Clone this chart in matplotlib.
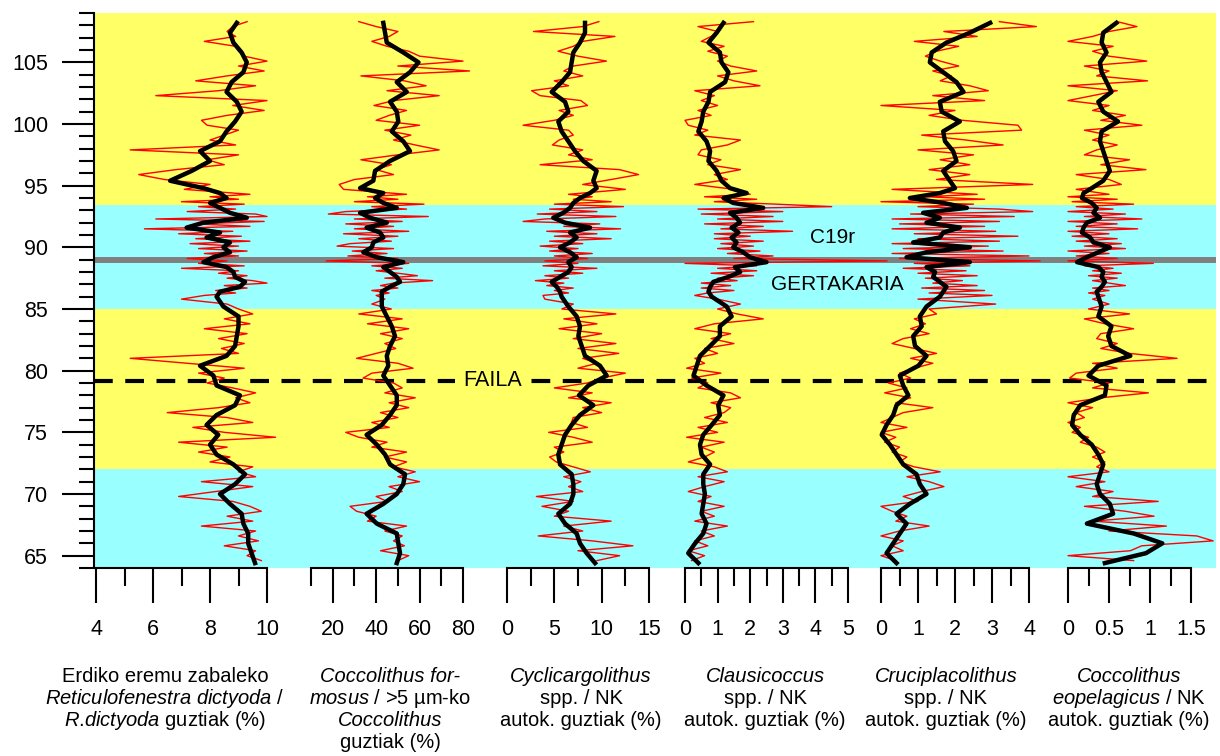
import matplotlib
matplotlib.use("Agg")
import matplotlib.pyplot as plt

plt.rcParams["font.family"] = ["Liberation Sans", "DejaVu Sans"]
plt.rcParams["mathtext.fontset"] = "custom"
plt.rcParams["mathtext.rm"] = "Liberation Sans"
plt.rcParams["mathtext.it"] = "Liberation Sans:italic"

# ---- data (depth in m) ----
depth_red = [
    108.3, 107.9, 107.5, 107.1, 106.7, 106.3, 105.9, 105.5, 105.1, 104.7,
    104.3, 103.9, 103.5, 103.1, 102.7, 102.3, 101.9, 101.5, 101.1, 100.7,
    100.3, 99.9, 99.5, 99.1, 98.7, 98.3, 97.9, 97.5, 97.1, 96.7,
    96.3, 95.9, 95.5, 95.1, 94.7, 94.3,
    94.1, 93.9, 93.7, 93.5, 93.3, 93.1, 92.9, 92.7, 92.5, 92.3,
    92.1, 91.9, 91.7, 91.5, 91.3, 91.1, 90.9, 90.7, 90.5, 90.3,
    90.1, 89.9, 89.7, 89.5, 89.3, 89.1, 88.9, 88.7, 88.5, 88.3,
    88.1, 87.9, 87.7, 87.5, 87.3, 87.1, 86.9, 86.7, 86.5, 86.3,
    86.1,
    85.8, 85.4, 85.0, 84.6, 84.2, 83.8, 83.4, 83.0, 82.6, 82.2,
    81.8, 81.4, 81.0, 80.6, 80.2, 79.8, 79.4, 79.0, 78.6, 78.2,
    77.8, 77.4, 77.0, 76.6, 76.2, 75.8, 75.4, 75.0, 74.6, 74.2,
    73.8, 73.4, 73.0, 72.6, 72.2, 71.8, 71.4, 71.0, 70.6, 70.2,
    69.8, 69.4, 69.0, 68.6, 68.2, 67.8, 67.4, 67.0, 66.6, 66.2,
    65.8, 65.4, 65.0, 64.6,
]

depth_black = [
    108.2, 107.4, 106.6, 105.8, 105.0, 104.2, 103.4, 102.6, 101.8, 101.0,
    100.2, 99.4, 98.6, 97.8, 97.0, 96.2, 95.4,
    94.8, 94.4, 94.0, 93.6, 93.2, 92.8, 92.4, 92.0, 91.6, 91.2,
    90.8, 90.4, 90.0, 89.6, 89.2, 88.8, 88.4, 88.0, 87.6, 87.2,
    86.8, 86.4, 86.0,
    85.2, 84.4, 83.6, 82.8, 82.0, 81.2, 80.4, 79.6, 78.8, 78.0,
    77.2, 76.4, 75.6, 74.8, 74.0, 73.2, 72.4, 71.6, 70.8, 70.0,
    69.2, 68.4, 67.6, 66.8, 66.0, 65.2, 64.4,
]

# Reticulofenestra dictyoda (medium) / all R. dictyoda (%)
rdict_raw = [
    9.3, 8.8, 8.6, 8.9, 7.8, 8.9, 9.0, 9.2, 10.0, 9.0,
    9.9, 8.6, 7.5, 9.6, 8.3, 6.1, 10.0, 8.8, 9.9, 8.6,
    7.7, 7.9, 9.0, 8.5, 8.0, 8.9, 5.2, 9.0, 7.9, 8.5,
    6.8, 5.5, 6.4, 8.0, 7.1, 9.4,
    8.0, 9.0, 7.0, 9.2, 7.6, 8.9, 7.2, 9.6, 10.0, 6.1,
    9.9, 7.5, 9.4, 5.7, 8.8, 6.9, 9.1, 7.5, 9.4, 7.3,
    9.0, 7.6, 9.3, 7.8, 9.0, 7.2, 8.6, 7.6, 9.2, 7.0,
    9.0, 8.3, 9.3, 8.6, 9.5, 10.0, 8.5, 9.3, 8.2, 8.9,
    7.8,
    7.0, 8.6, 9.0, 9.5, 8.5, 9.4, 7.8, 9.3, 8.3, 9.2,
    8.4, 9.0, 5.2, 7.2, 9.2, 7.6, 8.5, 7.9, 8.8, 9.6,
    8.9, 9.4, 8.3, 6.5, 8.6, 9.5, 7.4, 8.5, 10.3, 6.9,
    8.6, 7.6, 8.7, 8.0, 9.5, 9.0, 9.6, 7.7, 9.5, 8.2,
    6.9, 8.8, 9.4, 9.8, 8.6, 9.5, 7.7, 9.6, 9.0, 9.7,
    8.5, 9.6, 9.3, 9.8,
]
rdict_smooth = [
    8.94, 8.70, 8.82, 9.11, 9.29, 9.17, 8.76, 8.58, 8.94, 9.11,
    8.88, 8.58, 8.35, 7.65, 8.00, 7.36, 6.60,
    7.77, 8.35, 8.58, 8.00, 8.35, 8.70, 9.29, 7.77, 7.18, 8.35,
    7.88, 8.70, 8.47, 8.70, 8.12, 7.77, 8.58, 8.82, 8.88, 9.23,
    9.05, 8.35, 8.23,
    8.47, 9.00, 9.00, 8.94, 8.88, 8.58, 7.65, 8.12, 8.23, 9.05,
    8.88, 8.23, 7.88, 8.29, 8.00, 8.23, 8.82, 9.23, 8.88, 8.35,
    8.70, 9.11, 9.17, 9.34, 9.34, 9.46, 9.58,
]

# Coccolithus formosus / Coccolithus > 5 um (%)
cform_raw = [
    32, 40, 50, 46, 38, 45, 55, 60, 80, 50,
    83, 33, 53, 63, 45, 69, 48, 39, 54, 46,
    40, 60, 44, 56, 48, 58, 69, 50, 33, 47,
    40, 48, 30, 23, 25, 54,
    36, 50, 30, 62, 38, 54, 26, 18, 64, 30,
    52, 26, 48, 30, 55, 25, 50, 32, 47, 28,
    22, 48, 29, 45, 27, 50, 17, 55, 38, 52,
    40, 50, 59, 44, 66, 48, 42, 50, 38, 46,
    40,
    44, 38, 47, 32, 52, 36, 55, 42, 52, 44,
    49, 40, 31, 50, 57, 38, 34, 48, 52, 44,
    58, 46, 55, 42, 50, 38, 46, 26, 32, 45,
    38, 54, 44, 54, 48, 58, 50, 60, 46, 52,
    40, 45, 28, 31, 40, 36, 54, 44, 52, 48,
    53, 42, 55, 50,
]
cform_smooth = [
    43.3, 44.1, 44.9, 52.5, 59.5, 55.6, 49.5, 54.1, 46.4, 49.5,
    50.2, 47.2, 52.5, 55.6, 46.4, 39.5, 38.7,
    32.6, 43.3, 39.5, 43.3, 49.5, 32.6, 37.2, 44.9, 35.6, 41.8,
    43.3, 38.7, 38.0, 34.1, 40.3, 52.5, 43.3, 46.4, 49.5, 51.0,
    46.4, 42.6, 42.6,
    42.6, 44.9, 47.2, 48.7, 46.4, 44.9, 45.6, 43.3, 46.4, 49.5,
    49.5, 46.4, 42.6, 35.6, 40.3, 44.1, 46.4, 53.3, 52.5, 49.5,
    43.3, 35.6, 40.3, 49.5, 50.2, 51.0, 49.5,
]

# Cyclicargolithus spp. (%)
cycl_raw = [
    9.7, 8.0, 2.8, 11.4, 8.0, 7.0, 5.4, 7.5, 10.5, 7.0,
    6.0, 8.0, 5.0, 6.5, 2.6, 3.5, 7.8, 8.5, 5.5, 7.0,
    5.0, 1.7, 6.5, 7.0, 5.5, 4.8, 8.0, 6.5, 9.0, 3.5,
    11.9, 13.9, 11.0, 8.0, 12.5, 6.5,
    9.0, 7.0, 11.0, 5.0, 12.3, 4.5, 9.5, 3.2, 11.5, 4.0,
    1.7, 9.8, 6.0, 12.0, 4.2, 9.5, 5.0, 11.0, 4.5, 8.0,
    3.5, 7.5, 4.5, 9.0, 5.0, 8.5, 4.0, 7.5, 3.8, 9.5,
    5.0, 8.0, 4.0, 6.5, 3.0, 6.0, 4.2, 7.0, 5.0, 6.5,
    3.8,
    4.0, 7.0, 5.8, 11.5, 6.0, 9.5, 5.5, 10.0, 7.0, 11.5,
    7.5, 11.8, 8.0, 9.5, 7.5, 12.5, 10.0, 8.5, 5.0, 9.0,
    6.5, 11.0, 8.0, 10.0, 7.0, 6.8, 8.5, 4.4, 7.0, 9.0,
    5.0, 6.0, 4.5, 5.2, 7.0, 8.8, 6.0, 7.8, 6.5, 8.0,
    3.1, 7.0, 3.7, 6.5, 5.0, 11.0, 6.0, 8.0, 3.3, 9.0,
    13.3, 7.5, 11.9, 9.5,
]
cycl_smooth = [
    8.24, 8.24, 7.71, 7.01, 6.83, 6.66, 5.77, 4.72, 6.13, 6.48,
    5.42, 5.77, 6.48, 7.18, 8.06, 9.47, 9.12,
    9.47, 8.77, 7.71, 7.01, 6.66, 5.95, 4.89, 6.13, 8.77, 6.66,
    7.36, 6.66, 5.60, 6.66, 7.36, 6.48, 6.83, 6.48, 5.60, 4.72,
    5.25, 5.60, 5.77,
    6.48, 7.36, 7.71, 7.54, 7.89, 8.24, 9.82, 10.53, 8.60, 7.60,
    9.12, 7.71, 6.83, 6.13, 5.77, 5.42, 5.60, 6.83, 7.01, 7.01,
    6.66, 5.42, 6.13, 7.36, 7.71, 8.42, 9.30,
]

# Clausicoccus spp. (%)
claus_raw = [
    2.1, 0.4, 1.0, 0.8, 0.5, 1.2, 0.7, 1.3, 1.0, 1.4,
    2.2, 1.0, 1.5, 2.3, 0.3, 0.9, 0.5, 1.0, 0.4, 0.8,
    0.0, 0.1, 0.7, 0.3, 1.7, 1.3, 0.5, 0.4, 1.1, 0.7,
    1.7, 0.9, 1.3, 0.3, 1.5, 2.0,
    0.6, 2.2, 0.9, 2.8, 4.5, 0.4, 3.0, 0.5, 2.7, 1.0,
    3.0, 0.6, 2.4, 1.1, 3.3, 0.9, 2.0, 0.9, 2.4, 1.1,
    2.1, 1.0, 2.3, 1.3, 2.7, 1.5, 6.2, 0.0, 2.2, 1.0,
    2.2, 0.8, 2.1, 1.0, 1.6, 0.5, 1.4, 0.5, 1.5, 0.7,
    0.3,
    1.0, 1.7, 1.0, 1.6, 2.4, 0.9, 0.3, 1.4, 0.8, 1.5,
    0.6, 1.0, 0.3, 0.6, 0.05, 1.1, 0.2, 0.7, 0.4, 1.4,
    1.7, 0.8, 1.4, 1.2, 0.6, 1.3, 0.4, 1.0, 0.05, 1.2,
    0.5, 0.9, 0.6, 0.1, 0.9, 1.3, 0.4, 1.2, 0.6, 0.1,
    0.8, 0.4, 1.2, 0.5, 0.9, 0.3, 1.3, 0.5, 0.9, 0.3,
    0.7, 0.1, 0.6, 0.2,
]
claus_smooth = [
    1.18, 0.97, 0.72, 1.07, 1.12, 1.33, 1.23, 0.77, 0.72, 0.56,
    0.51, 0.41, 0.66, 0.77, 0.72, 0.97, 1.12,
    1.38, 1.89, 1.18, 1.48, 2.40, 1.38, 1.58, 1.69, 1.43, 1.64,
    1.43, 1.58, 1.48, 1.79, 1.99, 2.50, 1.53, 1.69, 1.33, 0.87,
    0.77, 0.72, 0.82,
    1.28, 1.43, 1.07, 1.07, 0.77, 0.46, 0.36, 0.26, 0.66, 1.18,
    1.02, 1.07, 0.82, 0.56, 0.46, 0.51, 0.77, 0.56, 0.56, 0.61,
    0.56, 0.51, 0.66, 0.56, 0.31, 0.10, 0.41,
]

# Cruciplacolithus spp. (%)
cruci_raw = [
    3.2, 4.2, 1.7, 2.6, 0.9, 2.1, 1.5, 1.2, 1.6, 2.1,
    1.4, 1.9, 1.6, 2.4, 2.9, 1.4, 2.8, 0.0, 2.0, 1.3,
    2.2, 3.7, 3.8, 1.1, 2.3, 3.3, 1.0, 2.5, 1.6, 2.4,
    1.3, 2.4, 1.5, 4.1, 0.3, 2.6,
    1.2, 2.8, 0.0, 2.5, 1.0, 3.2, 4.1, 0.8, 3.6, 0.3,
    3.2, 0.5, 2.8, 0.3, 3.1, 0.9, 3.7, 1.0, 3.2, 0.3,
    2.9, 0.6, 3.3, 0.3, 4.0, 0.5, 4.3, 0.9, 2.4, 0.6,
    2.3, 1.0, 2.6, 1.2, 2.2, 1.4, 2.6, 1.1, 2.8, 1.3,
    3.0,
    1.0, 3.1, 1.3, 1.5, 0.9, 1.2, 0.8, 1.3, 0.6, 0.3,
    0.9, 1.5, 0.8, 1.4, 0.9, 0.5, 0.8, 0.2, 0.7, 0.1,
    0.8, 0.4, 1.4, 0.6, 0.3, 0.0, 0.7, 0.0, 0.4, 0.1,
    0.5, 0.3, 0.7, 0.5, 0.9, 1.6, 0.7, 1.3, 1.7, 1.1,
    0.6, 1.0, 0.0, 0.3, 0.7, 0.4, 1.3, 0.5, 0.0, 0.6,
    0.3, 0.6, 0.0, 0.4,
]
cruci_smooth = [
    2.95, 2.40, 1.77, 1.37, 1.32, 1.68, 2.04, 2.23, 1.59, 1.64,
    2.13, 1.68, 1.73, 1.95, 2.04, 1.68, 1.86,
    2.00, 1.59, 0.78, 1.68, 2.32, 1.14, 1.59, 1.23, 2.13, 1.68,
    1.59, 0.87, 2.40, 1.23, 0.69, 2.40, 1.23, 1.46, 1.41, 1.59,
    1.77, 1.68, 1.59,
    1.23, 1.05, 1.10, 0.87, 0.92, 1.23, 1.01, 0.51, 0.60, 0.74,
    0.42, 0.33, 0.15, 0.02, 0.24, 0.42, 0.60, 0.96, 1.05, 1.23,
    0.78, 0.42, 0.69, 0.51, 0.33, 0.15, 0.42,
]

# Coccolithus eopelagicus (%)
ceope_raw = [
    0.6, 0.84, 0.5, 0.3, 0.0, 0.55, 0.3, 0.5, 0.96, 0.2,
    0.5, 0.35, 0.97, 0.0, 0.6, 0.3, 0.0, 0.5, 0.3, 0.7,
    0.4, 0.9, 0.2, 0.5, 0.3, 0.6, 0.35, 0.2, 0.75, 0.4,
    0.95, 0.1, 0.5, 0.65, 0.1, 0.5,
    0.0, 0.6, 0.05, 0.8, 0.1, 0.55, 0.0, 0.7, 0.2, 0.9,
    0.0, 0.6, 0.1, 0.85, 0.0, 0.5, 0.05, 0.6, 0.1, 0.65,
    0.2, 0.7, 0.0, 0.5, 0.1, 0.6, 0.0, 1.04, 0.2, 0.55,
    0.3, 0.65, 0.25, 0.6, 0.3, 0.5, 0.7, 0.3, 0.5, 0.25,
    0.45,
    0.3, 0.5, 0.25, 0.75, 0.2, 0.45, 0.8, 0.4, 0.35, 0.6,
    0.4, 0.75, 1.33, 0.3, 0.6, 0.1, 0.02, 0.5, 0.3, 0.98,
    0.4, 0.0, 0.3, 0.1, 0.2, 0.0, 0.15, 0.05, 0.25, 0.15,
    0.35, 0.45, 0.3, 0.45, 0.35, 0.5, 0.0, 0.45, 0.1, 0.55,
    0.3, 1.1, 0.2, 0.7, 1.05, 0.3, 1.2, 0.5, 1.57, 1.77,
    0.9, 0.76, 0.0, 0.8,
]
ceope_smooth = [
    0.59, 0.43, 0.41, 0.47, 0.39, 0.41, 0.47, 0.53, 0.37, 0.43,
    0.61, 0.41, 0.39, 0.43, 0.47, 0.51, 0.43,
    0.29, 0.19, 0.17, 0.29, 0.35, 0.31, 0.39, 0.23, 0.19, 0.17,
    0.27, 0.31, 0.51, 0.37, 0.23, 0.11, 0.37, 0.43, 0.41, 0.45,
    0.41, 0.35, 0.37,
    0.41, 0.37, 0.53, 0.49, 0.53, 0.76, 0.37, 0.25, 0.47, 0.45,
    0.15, 0.07, 0.05, 0.15, 0.29, 0.37, 0.43, 0.39, 0.35, 0.39,
    0.51, 0.55, 0.23, 0.80, 1.15, 0.95, 0.45,
]

# zone boundaries (depth) and event depths
zone_edges = [64, 72.0, 85.0, 93.4, 109]
event_depth = 89.0
fault_depth = 79.2

# axis limits / ticks per panel
panel_xlim = [(4, 10), (10, 80), (0, 15), (0, 5), (0, 4), (0, 1.5)]
panel_major = [[4, 6, 8, 10], [20, 40, 60, 80], [0, 5, 10, 15],
               [0, 1, 2, 3, 4, 5], [0, 1, 2, 3, 4], [0, 0.5, 1, 1.5]]
panel_minor = [[5, 7, 9], [10, 30, 50, 70], [2.5, 7.5, 12.5],
               [0.5, 1.5, 2.5, 3.5, 4.5], [0.5, 1.5, 2.5, 3.5],
               [0.25, 0.75, 1.25]]
panel_labels = [["4", "6", "8", "10"], ["20", "40", "60", "80"],
                ["0", "5", "10", "15"], ["0", "1", "2", "3", "4", "5"],
                ["0", "1", "2", "3", "4"], ["0", "0.5", "1", "1.5"]]
panel_titles = [
    ["Erdiko eremu zabaleko", r"$\mathit{Reticulofenestra\ dictyoda}$ /",
     r"$\mathit{R}$.$\mathit{dictyoda}$ guztiak (%)"],
    ["Coccolithus for-", r"$\mathit{mosus}$ / >5 µm-ko", "Coccolithus",
     "guztiak (%)"],
    ["Cyclicargolithus", "spp. / NK", "autok. guztiak (%)"],
    ["Clausicoccus", "spp. / NK", "autok. guztiak (%)"],
    ["Cruciplacolithus", "spp. / NK", "autok. guztiak (%)"],
    ["Coccolithus", r"$\mathit{eopelagicus}$ / NK", "autok. guztiak (%)"],
]
italic_lines = {"Coccolithus for-", "Coccolithus", "Cyclicargolithus",
                "Clausicoccus", "Cruciplacolithus"}

raw_series = [rdict_raw, cform_raw, cycl_raw, claus_raw, cruci_raw, ceope_raw]
smooth_series = [rdict_smooth, cform_smooth, cycl_smooth, claus_smooth,
                 cruci_smooth, ceope_smooth]

# ---- layout (pixels of the 1220x756 figure) ----
FIG_W, FIG_H = 1220, 756
PLOT_LEFT, PLOT_RIGHT = 94, 1216
PLOT_TOP, PLOT_BOTTOM = 13, 568
PANEL_PX = [(96, 267), (311, 463), (507, 649), (685, 848), (881, 1029), (1068, 1191)]
TITLE_X = [165, 390, 581, 765, 946, 1129]
TITLE_Y = [676, 698, 720, 742]
YELLOW = "#FFFF66"
CYAN = "#99FFFF"
FS = 14.5
FS_TICK = 15.5


def box(x0, x1):
    return [x0 / FIG_W, 1 - PLOT_BOTTOM / FIG_H,
            (x1 - x0) / FIG_W, (PLOT_BOTTOM - PLOT_TOP) / FIG_H]


def draw_background(fig):
    ax = fig.add_axes(box(PLOT_LEFT, PLOT_RIGHT))
    ax.set_xlim(PLOT_LEFT, PLOT_RIGHT)
    ax.set_ylim(64, 109)
    colors = [CYAN, YELLOW, CYAN, YELLOW]
    for lo, hi, c in zip(zone_edges[:-1], zone_edges[1:], colors):
        ax.axhspan(lo, hi, color=c, lw=0, zorder=0)
    ax.axhline(event_depth, color="#808080", lw=4.3, zorder=1)
    ax.axhline(fault_depth, color="black", lw=3, linestyle=(0, (4.5, 3)), zorder=1)

    ax.text(833, 90.8, "C19r", fontsize=15, ha="center", va="center", zorder=3)
    ax.text(837, 87.0, "GERTAKARIA", fontsize=15, ha="center", va="center", zorder=3)
    ax.text(493, fault_depth, "FAILA", fontsize=15.5, ha="center", va="center",
            zorder=3, bbox=dict(facecolor=YELLOW, edgecolor="none", pad=6))

    for s in ["top", "right", "bottom"]:
        ax.spines[s].set_visible(False)
    ax.spines["left"].set_linewidth(1.5)
    ax.set_xticks([])
    ax.set_yticks(range(65, 106, 5))
    ax.set_yticks(range(64, 110), minor=True)
    ax.tick_params(axis="y", which="major", length=23, width=1.5, pad=10,
                   labelsize=FS_TICK)
    ax.tick_params(axis="y", which="minor", length=11, width=1.5)
    return ax


def draw_panel(fig, i):
    x0, x1 = PANEL_PX[i]
    ax = fig.add_axes(box(x0, x1))
    ax.patch.set_visible(False)
    ax.set_xlim(*panel_xlim[i])
    ax.set_ylim(64, 109)
    ax.plot(raw_series[i], depth_red, color="red", lw=1.0, clip_on=False)
    ax.plot(smooth_series[i], depth_black, color="black", lw=3.2,
            solid_joinstyle="round", clip_on=False)
    for s in ["top", "right", "left"]:
        ax.spines[s].set_visible(False)
    ax.spines["bottom"].set_linewidth(1.5)
    ax.set_yticks([])
    ax.set_xticks(panel_major[i])
    ax.set_xticklabels(panel_labels[i])
    ax.set_xticks(panel_minor[i], minor=True)
    ax.tick_params(axis="x", which="major", length=25, width=1.5, pad=12,
                   labelsize=FS_TICK)
    ax.tick_params(axis="x", which="minor", length=13, width=1.5)

    for line, y in zip(panel_titles[i], TITLE_Y):
        style = "italic" if line in italic_lines else "normal"
        fig.text(TITLE_X[i] / FIG_W, 1 - y / FIG_H, line, fontsize=FS,
                 style=style, ha="center", va="center")


fig = plt.figure(figsize=(FIG_W / 100, FIG_H / 100), dpi=100)
draw_background(fig)
for i in range(len(PANEL_PX)):
    draw_panel(fig, i)
fig.savefig("out.png", dpi=100)
